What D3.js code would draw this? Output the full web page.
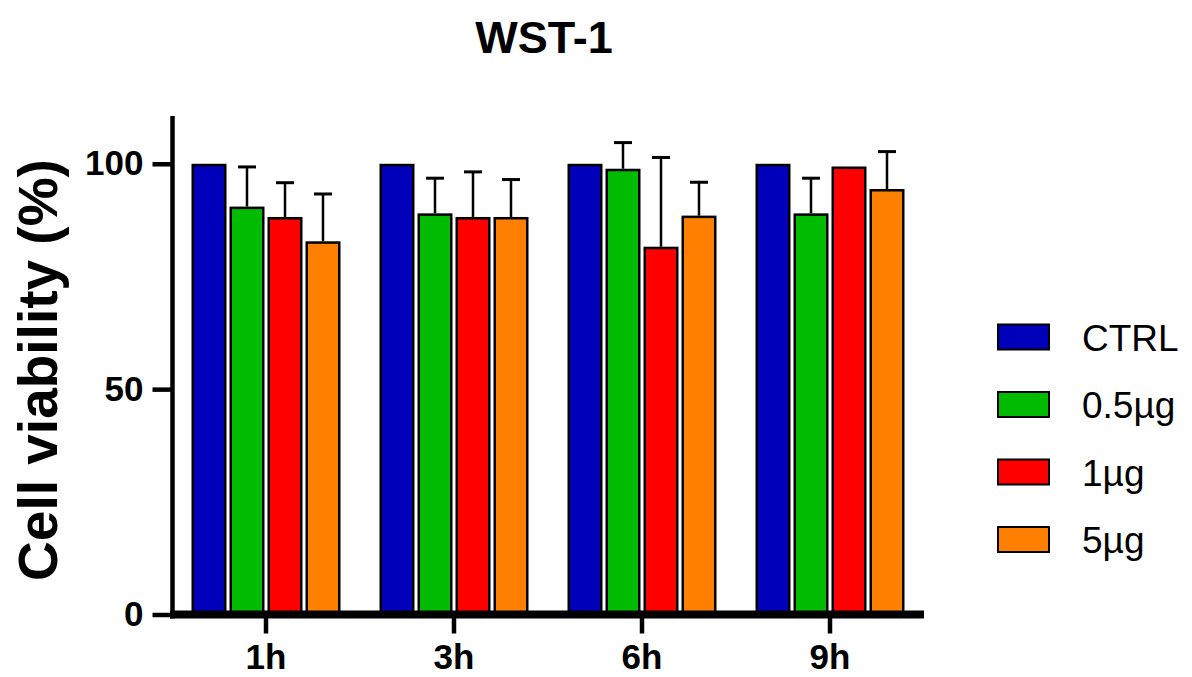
<!DOCTYPE html>
<html>
<head>
<meta charset="utf-8">
<script src="https://cdn.jsdelivr.net/npm/d3@7"></script>
<style>
  html, body { margin: 0; padding: 0; background: #fff; }
  svg { display: block; font-family: Arial, "Liberation Sans", sans-serif; }
</style>
</head>
<body>
<svg id="chart" width="1192" height="677"></svg>
<script>
// ---- data ----
const categories = ["1h", "3h", "6h", "9h"];
const seriesNames = ["CTRL", "0.5µg", "1µg", "5µg"];
const seriesColors = ["#0000BB", "#00BB00", "#FF0000", "#FF8000"];
const ctrlValues  = [100, 100, 100, 100];
const ctrlErrors  = [0, 0, 0, 0];
const g05Values   = [90.5, 89.0, 98.9, 89.0];
const g05Errors   = [8.8, 7.8, 5.8, 7.8];
const g1Values    = [88.2, 88.2, 81.6, 99.4];
const g1Errors    = [7.6, 10.0, 19.8, 0];
const g5Values    = [82.8, 88.2, 88.5, 94.4];
const g5Errors    = [10.5, 8.3, 7.4, 8.3];
const yTicks = [0, 50, 100];
const titleText = "WST-1";
const yTitle = "Cell viability (%)";

const seriesValues = [ctrlValues, g05Values, g1Values, g5Values];
const seriesErrors = [ctrlErrors, g05Errors, g1Errors, g5Errors];

const svg = d3.select("#chart");

const x0 = d3.scaleBand().domain(categories).range([172, 924]).padding(0);
const x1 = d3.scaleBand().domain(seriesNames).range([-76, 76]).paddingInner(0.079).paddingOuter(0.0395);
const y = d3.scaleLinear().domain([0, 110.6]).range([614.5, 116]);

const rows = [];
categories.forEach((c, ci) => {
  seriesNames.forEach((s, si) => {
    rows.push({cat: c, series: s, si, value: seriesValues[si][ci], err: seriesErrors[si][ci]});
  });
});

const bw = x1.bandwidth();
const sw = 2.5;
const bars = svg.append("g");
bars.selectAll("rect").data(rows).enter().append("rect")
  .attr("x", d => x0(d.cat) + x0.bandwidth() / 2 + x1(d.series) + sw / 2)
  .attr("y", d => y(d.value) + sw / 2)
  .attr("width", bw - sw)
  .attr("height", d => y(0) - y(d.value))
  .attr("fill", d => seriesColors[d.si])
  .attr("stroke", "#000")
  .attr("stroke-width", sw);

// error bars (upper only)
const errs = svg.append("g").attr("stroke", "#000");
rows.filter(d => d.err > 0).forEach(d => {
  const cx = x0(d.cat) + x0.bandwidth() / 2 + x1(d.series) + bw / 2;
  errs.append("line")
    .attr("x1", cx).attr("x2", cx)
    .attr("y1", y(d.value)).attr("y2", y(d.value + d.err))
    .attr("stroke-width", 2.5);
  errs.append("line")
    .attr("x1", cx - 9).attr("x2", cx + 9)
    .attr("y1", y(d.value + d.err)).attr("y2", y(d.value + d.err))
    .attr("stroke-width", 3);
});

// y axis
const yAxis = svg.append("g").attr("transform", "translate(172.5,0)")
  .call(d3.axisLeft(y).tickValues(yTicks).tickSize(20).tickSizeOuter(0).tickPadding(9));
yAxis.select(".domain").attr("stroke", "#000").attr("stroke-width", 4.5)
  .attr("d", `M0,${y.range()[1]}V${y(0) + 4}`);
yAxis.selectAll(".tick line").attr("stroke", "#000").attr("stroke-width", 4.5);
yAxis.selectAll(".tick text").attr("fill", "#000")
  .style("font-size", "35px").style("font-weight", "bold")
  .attr("font-family", "Arial, 'Liberation Sans', sans-serif");

// x axis
const xAxis = svg.append("g").attr("transform", `translate(0,${y(0)})`)
  .call(d3.axisBottom(x0).tickSize(19).tickSizeOuter(0).tickPadding(11));
xAxis.select(".domain").attr("stroke", "#000").attr("stroke-width", 8)
  .attr("d", "M170,0H924");
xAxis.selectAll(".tick line").attr("stroke", "#000").attr("stroke-width", 4.5);
xAxis.selectAll(".tick text").attr("fill", "#000")
  .style("font-size", "35px").style("font-weight", "bold")
  .attr("font-family", "Arial, 'Liberation Sans', sans-serif");

// title
svg.append("text").attr("x", 544).attr("y", 53).attr("text-anchor", "middle")
  .style("font-size", "45px").style("font-weight", "bold").text(titleText);

// y title
svg.append("text").attr("transform", "translate(57,370) rotate(-90)")
  .attr("text-anchor", "middle")
  .style("font-size", "55px").style("font-weight", "bold").text(yTitle);

// legend
const legend = svg.append("g");
seriesNames.forEach((s, i) => {
  const cy = 337 + i * 67.5;
  legend.append("rect").attr("x", 998).attr("y", cy - 12.5).attr("width", 51).attr("height", 25)
    .attr("fill", seriesColors[i]).attr("stroke", "#000").attr("stroke-width", 2);
  legend.append("text").attr("x", 1082).attr("y", cy + 13.5)
    .style("font-size", "37px").text(s);
});
</script>
</body>
</html>
